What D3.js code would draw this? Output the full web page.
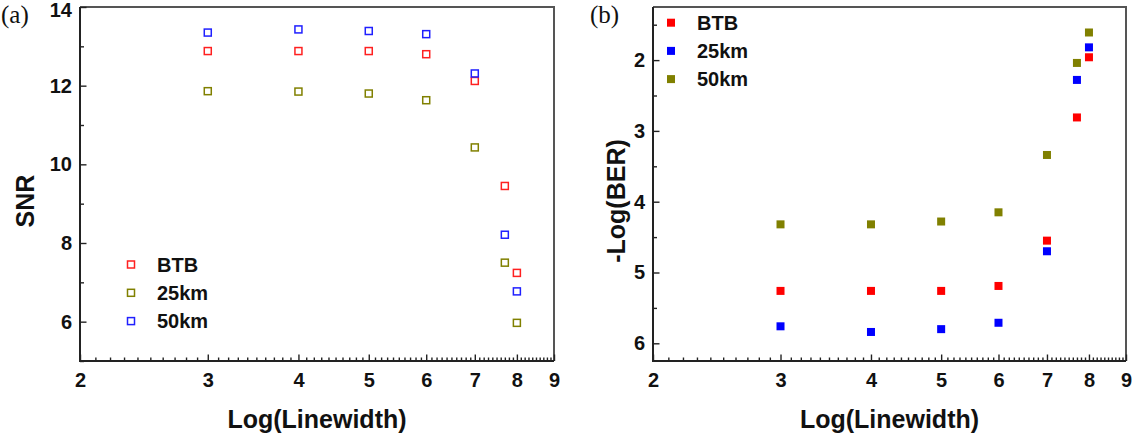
<!DOCTYPE html>
<html>
<head>
<meta charset="utf-8">
<script src="https://d3js.org/d3.v7.min.js"></script>
<style>
  html, body { margin: 0; padding: 0; background: #fff; }
  svg { display: block; }
  text { font-family: "Liberation Sans", Arial, sans-serif; font-weight: bold; fill: #111; }
</style>
</head>
<body>
<script>
// ---------------- data ----------------
const xValues = [3, 4, 5, 6, 7, 7.7, 8];
const seriesNames = ["BTB", "25km", "50km"];

// (a) SNR
const snrBTB  = [12.88, 12.88, 12.88, 12.80, 12.12, 9.45, 7.24];
const snr25km = [11.86, 11.85, 11.80, 11.63, 10.43, 7.50, 5.97];
const snr50km = [13.35, 13.43, 13.39, 13.31, 12.31, 8.21, 6.77];
const snrColors = ["#ff2020", "#808000", "#2020ff"];

// (b) -Log(BER)
const berBTB  = [5.26, 5.26, 5.26, 5.19, 4.55, 2.81, 1.96];
const ber25km = [5.76, 5.84, 5.80, 5.71, 4.70, 2.28, 1.82];
const ber50km = [4.32, 4.32, 4.28, 4.15, 3.34, 2.04, 1.61];
const berColors = ["#ff0000", "#0000ff", "#808000"];

const xTicks = [2, 3, 4, 5, 6, 7, 8, 9];
const snrTicks = [6, 8, 10, 12, 14];
const berTicks = [2, 3, 4, 5, 6];

// ---------------- drawing ----------------
const W = 1137, H = 447;
const svg = d3.select("body").append("svg").attr("width", W).attr("height", H);

const xMinor = d3.range(20, 91).map(v => v / 10).filter(v => !xTicks.includes(v));

function panel(opts) {
  const { left, right, top, bottom } = opts;
  const g = svg.append("g");
  const x = d3.scaleLog().domain([2, 9]).range([left, right]);
  const y = d3.scaleLinear().domain(opts.yDomain).range(opts.yRange);

  // frame top/right
  g.append("path")
    .attr("d", `M${left},${top}H${right}V${bottom}`)
    .attr("fill", "none").attr("stroke", "#555").attr("stroke-width", 2);

  const xMin = g.append("g").attr("transform", `translate(0,${bottom})`)
    .call(d3.axisBottom(x).tickValues(xMinor).tickSize(-3.5).tickFormat(""));
  const xMaj = g.append("g").attr("transform", `translate(0,${bottom})`)
    .call(d3.axisBottom(x).tickValues(xTicks).tickSize(-6.5).tickPadding(12).tickFormat(d3.format("d")));
  const yMin = g.append("g").attr("transform", `translate(${left},0)`)
    .call(d3.axisLeft(y).tickValues(opts.yMinor).tickSize(-4).tickFormat(""));
  const yMaj = g.append("g").attr("transform", `translate(${left},0)`)
    .call(d3.axisLeft(y).tickValues(opts.yTicks).tickSize(-6.5).tickPadding(8).tickFormat(d3.format("d")));

  [xMin, xMaj, yMin, yMaj].forEach(a => {
    a.select(".domain").remove();
    a.selectAll(".tick line").attr("stroke", "#222").attr("stroke-width", 1.4);
    a.selectAll(".tick text").style("font-size", "20px")
      .style("font-family", "'Liberation Sans', Arial, sans-serif").style("font-weight", "bold").attr("fill", "#111");
  });
  // keep the top y label inside the picture
  yMaj.selectAll(".tick text").filter(d => y(d) < 12).attr("dy", "0.45em");

  // axis lines (left & bottom)
  g.append("path")
    .attr("d", `M${left},${top}V${bottom}H${right}`)
    .attr("fill", "none").attr("stroke", "#222").attr("stroke-width", 2);

  // axis titles
  g.append("text")
    .attr("x", (left + right) / 2).attr("y", 428)
    .attr("text-anchor", "middle").style("font-size", "25px")
    .text("Log(Linewidth)");
  g.append("text")
    .attr("transform", `translate(${opts.yTitleX},201) rotate(-90)`)
    .attr("text-anchor", "middle").style("font-size", "25px")
    .text(opts.yTitle);

  // panel label
  g.append("text")
    .attr("x", opts.labelX).attr("y", 23)
    .style("font-family", "'Liberation Serif', 'Times New Roman', serif")
    .style("font-weight", "normal").style("font-size", "25px")
    .text(opts.label);

  // data
  const s = opts.size;
  opts.series.forEach((vals, i) => {
    const col = opts.colors[i];
    g.append("g").selectAll("rect").data(xValues.map((xv, j) => [xv, vals[j]]))
      .join("rect")
      .attr("x", d => x(d[0]) - s / 2).attr("y", d => y(d[1]) - s / 2)
      .attr("width", s).attr("height", s)
      .attr("fill", opts.filled ? col : "none")
      .attr("stroke", opts.filled ? "none" : col)
      .attr("stroke-width", opts.filled ? 0 : 1.5);
  });

  // legend
  const lg = g.append("g");
  seriesNames.forEach((name, i) => {
    const ly = opts.legendY + i * opts.legendStep;
    const col = opts.colors[i];
    lg.append("rect")
      .attr("x", opts.legendX - s / 2).attr("y", ly - s / 2)
      .attr("width", s).attr("height", s)
      .attr("fill", opts.filled ? col : "none")
      .attr("stroke", opts.filled ? "none" : col)
      .attr("stroke-width", opts.filled ? 0 : 1.5);
    lg.append("text")
      .attr("x", opts.legendX + 26).attr("y", ly)
      .attr("dy", "0.36em").style("font-size", "20px")
      .text(name);
  });
}

panel({
  left: 80, right: 554, top: 7, bottom: 361,
  yDomain: [5, 14], yRange: [361, 7],
  yTicks: snrTicks, yMinor: [5, 7, 9, 11, 13],
  yTitle: "SNR", yTitleX: 34,
  label: "(a)", labelX: 1,
  series: [snrBTB, snr25km, snr50km], colors: snrColors,
  filled: false, size: 7,
  legendX: 131, legendY: 264.5, legendStep: 28.3
});

panel({
  left: 653, right: 1126, top: 7, bottom: 361,
  yDomain: [1.25, 6.25], yRange: [7, 361],
  yTicks: berTicks, yMinor: [1.5, 2.5, 3.5, 4.5, 5.5],
  yTitle: "-Log(BER)", yTitleX: 625,
  label: "(b)", labelX: 590,
  series: [berBTB, ber25km, ber50km], colors: berColors,
  filled: true, size: 8,
  legendX: 671, legendY: 22.7, legendStep: 28.2
});
</script>
</body>
</html>
